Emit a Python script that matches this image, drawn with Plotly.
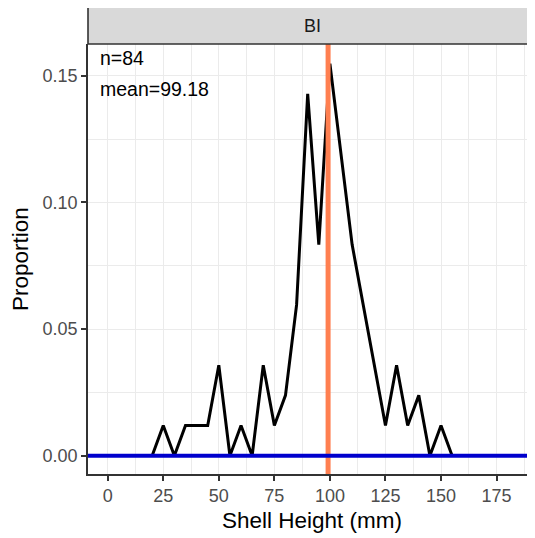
import plotly.graph_objects as go

# ---- data ----
panel_label = "BI"
n_total = 84
mean_value = 99.18
shell_height = [20, 25, 30, 35, 40, 45, 50, 55, 60, 65, 70, 75, 80, 85, 90, 95,
                100, 105, 110, 115, 120, 125, 130, 135, 140, 145, 150, 155]
counts = [0, 1, 0, 1, 1, 1, 3, 0, 1, 0, 3, 1, 2, 5, 12, 7,
          13, 10, 7, 5, 3, 1, 3, 1, 2, 0, 1, 0]
proportion = [c / n_total for c in counts]
x_ticks = [0, 25, 50, 75, 100, 125, 150, 175]
y_ticks = [0.00, 0.05, 0.10, 0.15]
y_tick_labels = ["0.00", "0.05", "0.10", "0.15"]

FONT = "Liberation Sans, Arial, sans-serif"
OFF = 8  # page body margin offset
W, H = 535 - OFF, 538 - OFF
# plot area in page pixels
PL, PR, PT, PB = 88, 535, 44, 474
L, R, T, B = PL - OFF, 535 - PR, PT - OFF, 538 - PB
XR = [-8.87, 192.3]
YR = [-0.00722, 0.1625]

fig = go.Figure()
fig.add_trace(go.Scatter(x=shell_height, y=proportion, mode="lines",
                         line=dict(color="black", width=3), hoverinfo="skip",
                         showlegend=False))
fig.add_trace(go.Scatter(x=[mean_value, mean_value], y=[YR[0], YR[1]], mode="lines",
                         line=dict(color="#FF7F50", width=5), hoverinfo="skip",
                         showlegend=False))
fig.add_trace(go.Scatter(x=[XR[0], XR[1]], y=[0, 0], mode="lines",
                         line=dict(color="#0000CD", width=4), hoverinfo="skip",
                         showlegend=False))

grid = "#EBEBEB"
fig.update_xaxes(range=XR, tickvals=x_ticks, ticktext=[str(v) for v in x_ticks],
                 showgrid=True, gridcolor=grid, gridwidth=1.1, zeroline=False,
                 showline=True, linecolor="#333333", linewidth=1.6, mirror=False,
                 ticks="outside", ticklen=5, tickwidth=1.6, tickcolor="#333333",
                 tickfont=dict(family=FONT, size=18, color="#4D4D4D"),
                 minor=dict(tickvals=[12.5, 37.5, 62.5, 87.5, 112.5, 137.5, 162.5, 187.5],
                            showgrid=True, gridcolor=grid, gridwidth=0.6, ticks=""))
fig.update_yaxes(range=YR, tickvals=y_ticks, ticktext=y_tick_labels,
                 showgrid=True, gridcolor=grid, gridwidth=1.1, zeroline=False,
                 showline=True, linecolor="#333333", linewidth=1.6, mirror=False,
                 ticks="outside", ticklen=5, tickwidth=1.6, tickcolor="#333333",
                 tickfont=dict(family=FONT, size=18, color="#4D4D4D"),
                 minor=dict(tickvals=[0.025, 0.075, 0.125],
                            showgrid=True, gridcolor=grid, gridwidth=0.6, ticks=""))

pw = PR - PL
ph = PB - PT
def py(p):  # page pixel y -> paper
    return (PB - p) / ph
def px(p):  # page pixel x -> paper
    return (p - PL) / pw

# strip
fig.add_shape(type="rect", xref="paper", yref="paper",
              x0=0, x1=1.02, y0=1.0, y1=py(6),
              fillcolor="#D9D9D9", line=dict(color="#333333", width=1.6), layer="above")
fig.add_annotation(text=panel_label, xref="paper", yref="paper",
                   x=px(312), y=py(25.5), xanchor="center", yanchor="middle",
                   showarrow=False,
                   font=dict(family=FONT, size=18, color="#1A1A1A"))

# stats text
fig.add_annotation(text=f"n={n_total}", xref="paper", yref="paper",
                   x=px(98), y=py(58), xanchor="left", yanchor="middle",
                   showarrow=False, font=dict(family=FONT, size=19.5, color="black"))
fig.add_annotation(text=f"mean={mean_value:.2f}", xref="paper", yref="paper",
                   x=px(98), y=py(89), xanchor="left", yanchor="middle",
                   showarrow=False, font=dict(family=FONT, size=19.5, color="black"))

# axis titles
fig.add_annotation(text="Shell Height (mm)", xref="paper", yref="paper",
                   x=px(312), y=py(520), showarrow=False,
                   xanchor="center", yanchor="middle",
                   font=dict(family=FONT, size=22.5, color="black"))
fig.add_annotation(text="Proportion", xref="paper", yref="paper",
                   x=px(20), y=py(259), showarrow=False,
                   textangle=-90, xanchor="center", yanchor="middle",
                   font=dict(family=FONT, size=22.5, color="black"))

fig.update_layout(width=W, height=H, margin=dict(l=L, r=R, t=T, b=B, autoexpand=False),
                  plot_bgcolor="white", paper_bgcolor="white", showlegend=False)

fig.write_html("out.html")
